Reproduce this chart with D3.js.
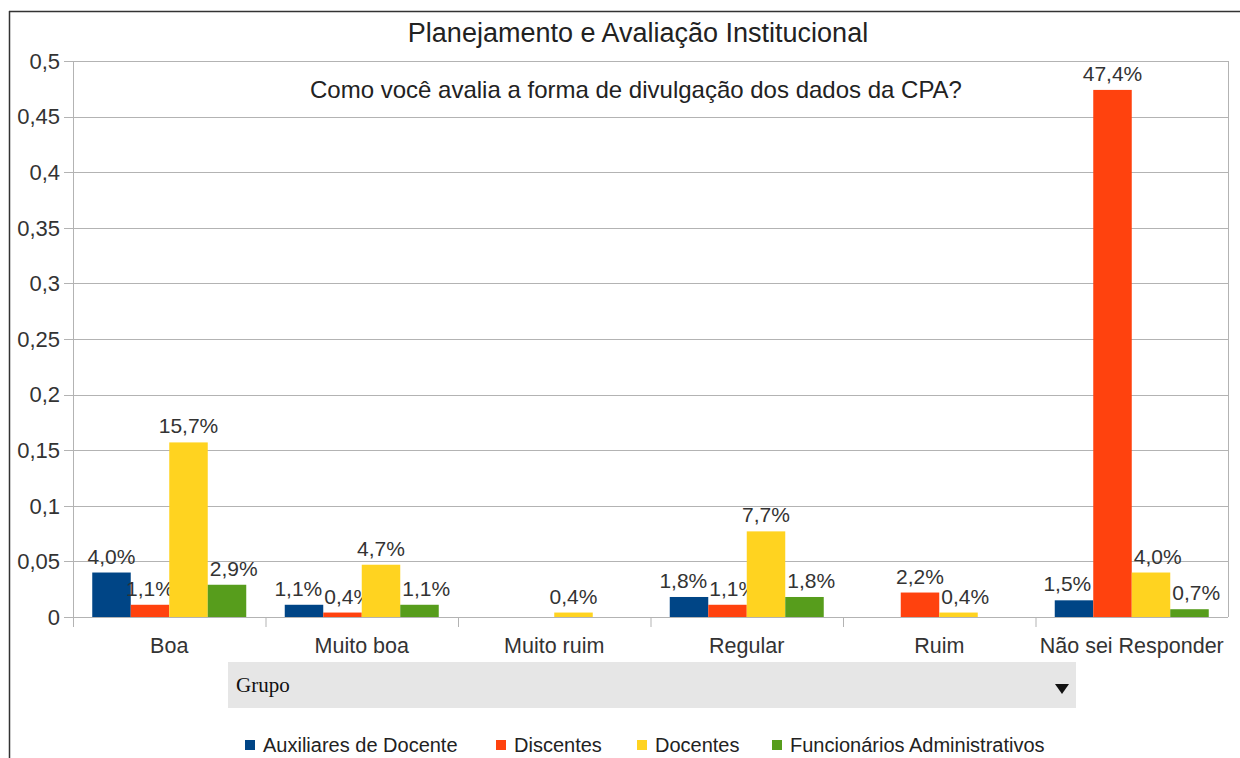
<!DOCTYPE html>
<html>
<head>
<meta charset="utf-8">
<script src="https://cdn.jsdelivr.net/npm/d3@7"></script>
<style>
  body { margin: 0; background: #fff; }
  svg { display: block; font-family: "Liberation Sans", Arial, sans-serif; }
</style>
</head>
<body>
<svg id="chart"></svg>
<script>
// dados do grafico
const categories = ["Boa", "Muito boa", "Muito ruim", "Regular", "Ruim", "Não sei Responder"];
const seriesNames = ["Auxiliares de Docente", "Discentes", "Docentes", "Funcionários Administrativos"];
const auxiliares = [0.040, 0.011, null, 0.018, null, 0.015];
const discentes = [0.011, 0.004, null, 0.011, 0.022, 0.474];
const docentes = [0.157, 0.047, 0.004, 0.077, 0.004, 0.040];
const funcionarios = [0.029, 0.011, null, 0.018, null, 0.007];
const yTicks = [0, 0.05, 0.1, 0.15, 0.2, 0.25, 0.3, 0.35, 0.4, 0.45, 0.5];
const colors = ["#004586", "#ff420e", "#ffd320", "#579d1c"];

const seriesValues = [auxiliares, discentes, docentes, funcionarios];

var W = 1240, H = 758;
var svg = d3.select('svg#chart').attr('width', W).attr('height', H);

var margin = {left: 73, right: 12, top: 61, bottom: 141};
var plotW = W - margin.left - margin.right;
var plotH = H - margin.top - margin.bottom;

// moldura externa
svg.append('line').attr('x1', 9.5).attr('x2', 9.5).attr('y1', 11).attr('y2', H)
  .attr('stroke', '#333').attr('stroke-width', 1.5);
svg.append('line').attr('x1', 9).attr('x2', W).attr('y1', 11.5).attr('y2', 11.5)
  .attr('stroke', '#333').attr('stroke-width', 1.5);

var g = svg.append('g').attr('transform', 'translate(' + margin.left + ',' + margin.top + ')');

var x0 = d3.scaleBand().domain(categories).range([0, plotW]).paddingInner(0).paddingOuter(0);
var x1 = d3.scaleBand().domain(seriesNames).range([0, x0.bandwidth()]).paddingInner(0).paddingOuter(0.5);
var y = d3.scaleLinear().domain([0, 0.5]).range([plotH, 0]);

// grade
g.append('g').selectAll('line').data(yTicks).enter().append('line')
  .attr('x1', -9).attr('x2', plotW)
  .attr('y1', d => Math.round(y(d)) + 0.5).attr('y2', d => Math.round(y(d)) + 0.5)
  .attr('stroke', '#b3b3b3').attr('stroke-width', 1);

// rotulos eixo y
g.append('g').selectAll('text').data(yTicks).enter().append('text')
  .attr('x', -13).attr('y', d => y(d)).attr('dy', '0.35em')
  .attr('text-anchor', 'end').style('font-size', '22px').attr('fill', '#333')
  .text(d => d3.format('')(d).replace('.', ','));

// borda direita e eixo y
g.append('line').attr('x1', plotW + 0.5).attr('x2', plotW + 0.5).attr('y1', 0).attr('y2', plotH)
  .attr('stroke', '#b3b3b3');
g.append('line').attr('x1', 0.5).attr('x2', 0.5).attr('y1', 0).attr('y2', plotH + 10)
  .attr('stroke', '#b3b3b3');

// ticks do eixo x
g.append('g').selectAll('line').data(categories.slice(1)).enter().append('line')
  .attr('x1', d => x0(d) + 0.5).attr('x2', d => x0(d) + 0.5)
  .attr('y1', plotH).attr('y2', plotH + 10)
  .attr('stroke', '#b3b3b3');

// barras + rotulos
var groups = g.append('g').selectAll('g').data(categories).enter().append('g')
  .attr('transform', d => 'translate(' + x0(d) + ',0)');

var labelSize = 21;
groups.each(function(cat, ci){
  var sel = d3.select(this);
  var items = [];
  seriesNames.forEach(function(s, si){
    var v = seriesValues[si][ci];
    var bar = {left: x1(s), right: x1(s) + x1.bandwidth(), top: v == null ? plotH : y(v)};
    if (v == null) { items.push({bar: bar}); return; }
    sel.append('rect')
      .attr('x', x1(s)).attr('width', x1.bandwidth())
      .attr('y', y(v)).attr('height', plotH - y(v))
      .attr('fill', colors[si]);
    var t = sel.append('text')
      .attr('y', y(v) - 9)
      .attr('text-anchor', 'middle').style('font-size', labelSize + 'px').attr('fill', '#333')
      .text(d3.format('.1f')(v * 100).replace('.', ',') + '%');
    var w = t.node().getComputedTextLength();
    items.push({bar: bar, t: t, cx: x1(s) + x1.bandwidth() / 2, w: w,
      top: y(v) - 9 - labelSize * 0.75, bottom: y(v) - 6});
  });
  // afasta rotulos das barras vizinhas
  items.forEach(function(it, i){
    if (!it.t) return;
    var L = it.cx - it.w / 2, R = it.cx + it.w / 2;
    var lb = i > 0 ? items[i - 1].bar : null, rb = i < items.length - 1 ? items[i + 1].bar : null;
    var oL = lb && lb.top < it.bottom ? Math.max(0, lb.right - L) : 0;
    var oR = rb && rb.top < it.bottom ? Math.max(0, R - rb.left) : 0;
    if (oL > 0 && oR === 0) it.cx += oL + 2;
    if (oR > 0 && oL === 0) it.cx -= oR + 2;
  });
  // afasta rotulos entre si
  var lab = items.filter(d => d.t);
  for (var k = 0; k < 3; k++) {
    for (var i = 0; i < lab.length - 1; i++) {
      var a = lab[i], b = lab[i + 1];
      var vOver = a.top < b.bottom && b.top < a.bottom;
      var over = (a.cx + a.w / 2) - (b.cx - b.w / 2) + 2;
      if (vOver && over > 0) { a.cx -= over / 2; b.cx += over / 2; }
    }
  }
  lab.forEach(d => d.t.attr('x', d.cx));
});

// eixo zero
g.append('line').attr('x1', -9).attr('x2', plotW).attr('y1', plotH + 0.5).attr('y2', plotH + 0.5)
  .attr('stroke', '#b3b3b3');

// rotulos das categorias
g.append('g').selectAll('text').data(categories).enter().append('text')
  .attr('x', d => x0(d) + x0.bandwidth() / 2).attr('y', plotH + 36)
  .attr('text-anchor', 'middle').style('font-size', '21.5px').attr('fill', '#333')
  .text(d => d);

// titulos
svg.append('text').attr('x', 638).attr('y', 42).attr('text-anchor', 'middle')
  .style('font-size', '27px').attr('fill', '#222').text('Planejamento e Avaliação Institucional');
svg.append('text').attr('x', 636).attr('y', 98).attr('text-anchor', 'middle')
  .style('font-size', '24px').attr('fill', '#222').text('Como você avalia a forma de divulgação dos dados da CPA?');

// campo "Grupo"
svg.append('rect').attr('x', 228).attr('y', 662).attr('width', 848).attr('height', 46)
  .attr('fill', '#e6e6e6');
svg.append('text').attr('x', 236).attr('y', 692)
  .style('font-family', '"Liberation Serif", "DejaVu Serif", serif').style('font-size', '21px')
  .attr('fill', '#111').text('Grupo');
svg.append('path').attr('d', 'M1055,684 L1069,684 L1062,694 Z').attr('fill', '#111');

// legenda
var legendX = [245, 496, 637, 772];
var legend = svg.append('g').selectAll('g').data(seriesNames).enter().append('g')
  .attr('transform', (d, i) => 'translate(' + legendX[i] + ',740)');
legend.append('rect').attr('width', 10).attr('height', 10).attr('fill', (d, i) => colors[i]);
legend.append('text').attr('x', 18).attr('y', 12)
  .style('font-size', '20px').attr('fill', '#222').text(d => d);
</script>
</body>
</html>
